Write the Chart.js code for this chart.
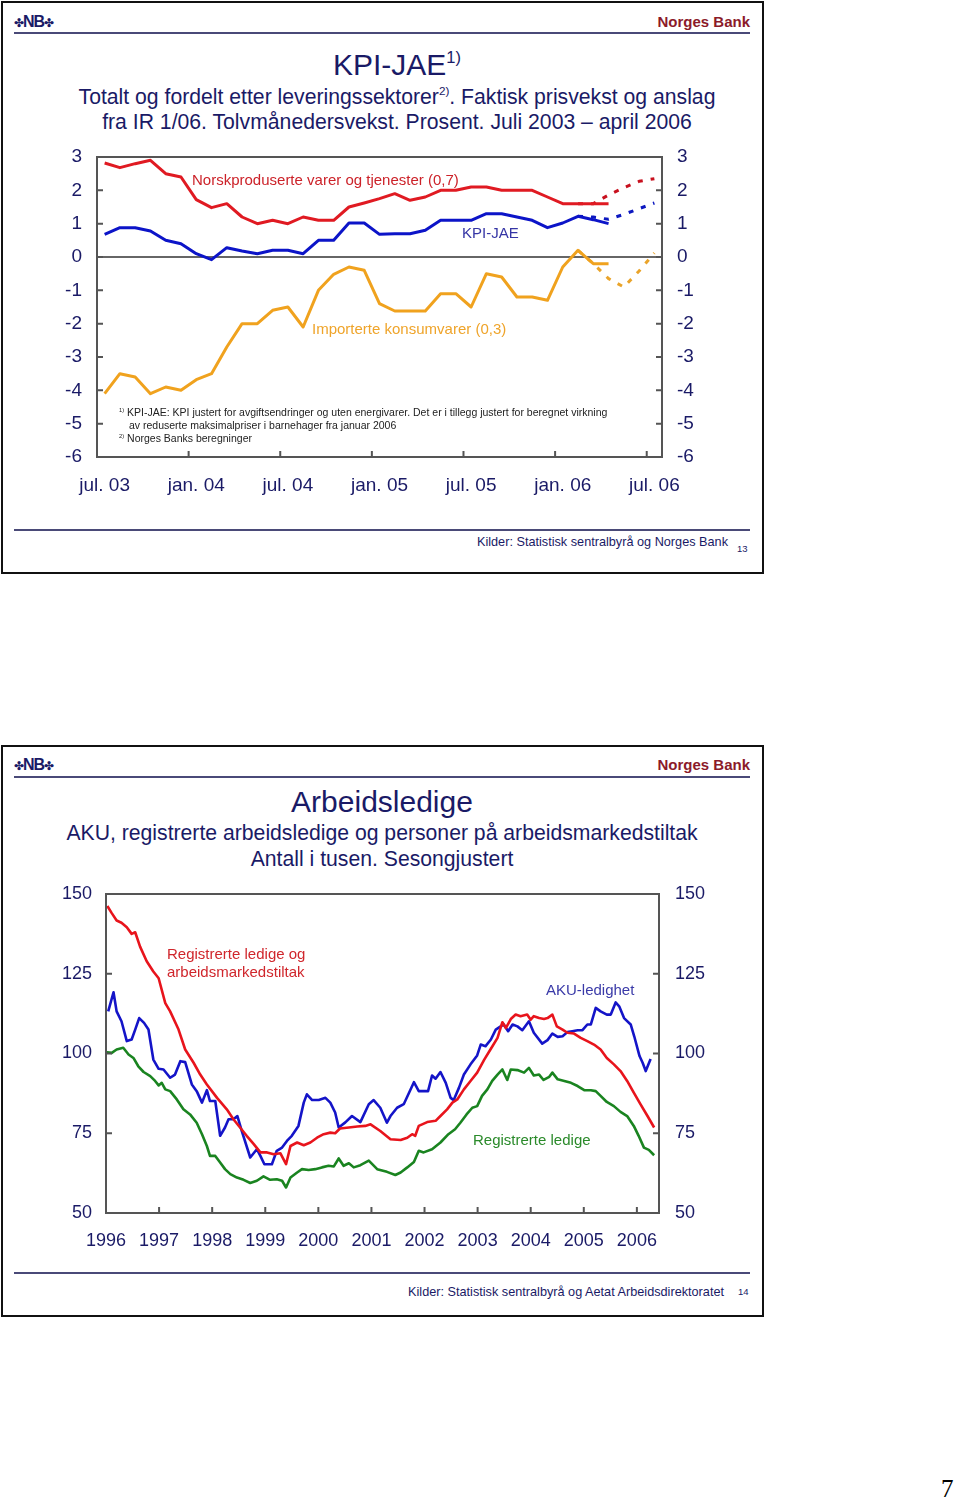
<!DOCTYPE html>
<html><head><meta charset="utf-8">
<script src="https://cdn.jsdelivr.net/npm/chart.js@4"></script>
<style>
body{margin:0;background:#fff;width:960px;height:1501px;position:relative;overflow:hidden;font-family:"Liberation Sans",Arial,sans-serif;color:#1a1a66}
.abs{position:absolute;white-space:nowrap;line-height:1}
.frame{position:absolute;border:2px solid #111;box-sizing:border-box}
.hl{position:absolute;height:2px;background:#4a4a78}
.ctr{transform:translateX(-50%)}
.sup{font-size:55%;position:relative;top:-0.75em}
.logo{font-weight:bold;font-size:16px;color:#1a1a66;letter-spacing:-1px}
.logo span{font-size:12px;font-weight:normal}
.nb{font-weight:bold;font-size:15px;color:#8b1a2a}
.fn{font-size:10.5px;color:#222}
canvas{position:absolute}
</style>
</head><body>
<!-- slide 1 -->
<div class="frame" style="left:1px;top:1px;width:763px;height:573px"></div>
<div class="abs logo" style="left:14px;top:14px"><span>✤</span>NB<span>✤</span></div>
<div class="abs nb" style="right:210px;top:14px">Norges Bank</div>
<div class="hl" style="left:14px;top:32px;width:736px"></div>
<div class="abs ctr" style="left:397px;top:50px;font-size:30px">KPI-JAE<span class="sup">1)</span></div>
<div class="abs ctr" style="left:397px;top:86px;font-size:21.2px">Totalt og fordelt etter leveringssektorer<span class="sup">2)</span>. Faktisk prisvekst og anslag</div>
<div class="abs ctr" style="left:397px;top:111px;font-size:21.2px">fra IR 1/06. Tolvmånedersvekst. Prosent. Juli 2003 – april 2006</div>
<canvas id="c1" width="700" height="370" style="left:30px;top:140px"></canvas>
<div class="abs" style="left:192px;top:172px;font-size:15px;color:#cc2229">Norskproduserte varer og tjenester (0,7)</div>
<div class="abs" style="left:462px;top:225px;font-size:15px;color:#3535a5">KPI-JAE</div>
<div class="abs" style="left:312px;top:321px;font-size:15px;color:#efa42a">Importerte konsumvarer (0,3)</div>
<div class="abs fn" style="left:119px;top:407px"><span class="sup">1)</span> KPI-JAE: KPI justert for avgiftsendringer og uten energivarer. Det er i tillegg justert for beregnet virkning</div>
<div class="abs fn" style="left:129px;top:420px">av reduserte maksimalpriser i barnehager fra januar 2006</div>
<div class="abs fn" style="left:119px;top:433px"><span class="sup">2)</span> Norges Banks beregninger</div>
<div class="hl" style="left:14px;top:529px;width:736px"></div>
<div class="abs" style="right:232px;top:536px;font-size:12.7px;color:#1a1a66">Kilder: Statistisk sentralbyrå og Norges Bank</div>
<div class="abs" style="left:737px;top:544px;font-size:9.5px;color:#1a1a66">13</div>

<!-- slide 2 -->
<div class="frame" style="left:1px;top:745px;width:763px;height:572px"></div>
<div class="abs logo" style="left:14px;top:757px"><span>✤</span>NB<span>✤</span></div>
<div class="abs nb" style="right:210px;top:757px">Norges Bank</div>
<div class="hl" style="left:14px;top:776px;width:736px"></div>
<div class="abs ctr" style="left:382px;top:787px;font-size:30px">Arbeidsledige</div>
<div class="abs ctr" style="left:382px;top:822px;font-size:21.2px">AKU, registrerte arbeidsledige og personer på arbeidsmarkedstiltak</div>
<div class="abs ctr" style="left:382px;top:848px;font-size:21.2px">Antall i tusen. Sesongjustert</div>
<canvas id="c2" width="690" height="380" style="left:40px;top:880px"></canvas>
<div class="abs" style="left:167px;top:946px;font-size:15px;color:#d0262c">Registrerte ledige og</div>
<div class="abs" style="left:167px;top:964px;font-size:15px;color:#d0262c">arbeidsmarkedstiltak</div>
<div class="abs" style="left:546px;top:982px;font-size:15px;color:#3a3aa8">AKU-ledighet</div>
<div class="abs" style="left:473px;top:1132px;font-size:15px;color:#2a8a2a">Registrerte ledige</div>
<div class="hl" style="left:14px;top:1272px;width:736px"></div>
<div class="abs" style="right:236px;top:1286px;font-size:12.7px;color:#1a1a66">Kilder: Statistisk sentralbyrå og Aetat Arbeidsdirektoratet</div>
<div class="abs" style="left:738px;top:1287px;font-size:9.5px;color:#1a1a66">14</div>

<div class="abs" style="left:941px;top:1476px;font-size:25px;font-family:'Liberation Serif',serif;color:#000">7</div>

<script>
// ---------- Chart 1: KPI-JAE (months since jul. 03) ----------
const kpiTickLabels = ['jul. 03','jan. 04','jul. 04','jan. 05','jul. 05','jan. 06','jul. 06'];
const kpiTickMonths = [0, 6, 12, 18, 24, 30, 36];
const kpiTickMarks = [5.5, 11.5, 17.5, 23.5, 29.5, 35.5];
const kpiYTicks = [-6,-5,-4,-3,-2,-1,0,1,2,3];
// actual, jul. 03 .. apr. 06
const norskProd = [2.82,2.68,2.8,2.9,2.5,2.4,1.72,1.48,1.6,1.2,1.0,1.1,1.0,1.2,1.1,1.1,1.5,1.62,1.75,1.9,1.7,1.8,2.0,2.0,2.1,2.1,2.0,2.0,2.0,1.8,1.6,1.6,1.6,1.6];
const kpiJae    = [0.68,0.88,0.88,0.78,0.5,0.4,0.1,-0.08,0.28,0.18,0.1,0.2,0.2,0.1,0.5,0.5,1.02,1.02,0.68,0.7,0.7,0.8,1.1,1.1,1.1,1.3,1.3,1.2,1.1,0.88,1.02,1.22,1.12,1.0];
const importert = [-4.1,-3.5,-3.6,-4.1,-3.9,-4.0,-3.68,-3.5,-2.7,-2.0,-2.0,-1.6,-1.5,-2.1,-1.0,-0.52,-0.3,-0.4,-1.4,-1.62,-1.62,-1.62,-1.1,-1.1,-1.5,-0.5,-0.6,-1.2,-1.2,-1.3,-0.3,0.2,-0.2,-0.2];
// forecast IR 1/06, feb. 06 .. jul. 06
const forecastStart = 31;
const norskProdAnslag = [1.6,1.6,1.86,2.08,2.27,2.35];
const kpiJaeAnslag    = [1.22,1.2,1.13,1.28,1.45,1.62];
const importertAnslag = [0.2,-0.2,-0.65,-0.9,-0.42,0.12];

// ---------- Chart 2: Arbeidsledige (months since jan. 1996) ----------
const yearLabels = ['1996','1997','1998','1999','2000','2001','2002','2003','2004','2005','2006'];
const ledYTicks = [50,75,100,125,150];
const regTiltakMonth = [0.3,1.3,2.4,3.5,4.7,5.8,6.6,7.7,9.2,10.7,11.9,13.4,14.5,16.4,17.9,19.8,21.3,22.8,25.1,27.3,28.8,30.3,31.8,33.4,34.9,36.4,37.9,39.4,40.7,41.7,43.2,44.7,46.2,47.7,49.2,50.7,51.8,52.9,54.9,56.8,58.6,59.8,62,64.3,66.6,68.1,69.2,69.9,70.7,72.6,74.5,75.6,77.1,78.3,79.4,80.9,82.4,83.9,85.5,87,88.5,89.6,90.4,91.5,92.6,93.7,95.2,96,96.7,97.9,99,99.8,100.9,101.9,103.2,104.3,105.8,107.3,108.8,110.3,111.8,113.2,114.8,116.3,117.8,119.3,120.8,122.4,123.9];
const regTiltakValue = [146.25,144,141.7,141,139.6,137.5,138,133.5,128.9,125.7,123.6,115.8,113.2,107.5,101.25,97.1,93.4,90.3,86.1,82.5,79.4,76.8,74.2,71.6,69,69,68.4,68.75,65.3,71,72.1,71.25,72.1,73.6,74.7,75.2,75,76.5,76.8,77.1,77.3,77.8,75.7,73.1,72.9,73.6,74.7,74.2,77.3,78.5,78.9,80.4,82.5,84.6,85.6,88.75,91.4,94,98.1,101.5,104.9,109.8,108,110.8,112.2,111.7,112.2,110.6,111.7,111.1,110.8,111.1,112.2,108.5,107.5,106.5,106.25,104.9,103.9,102.8,101.25,98.6,96.6,94.5,91.4,87.7,84.1,80.4,76.8];
const akuMonth = [0.5,1.7,2.4,3.5,4.7,5.8,6.6,7.5,8.6,9.6,10.7,11.9,13,14.5,15.6,16.8,17.9,19.4,20.5,21.7,22.8,23.5,24.7,25.8,26.9,27.7,28.8,29.7,30.7,32.6,34.1,34.9,35.8,37.5,38.6,39.8,40.9,42,43.5,44.7,45.4,46.6,48.1,49.6,50.7,51.8,52.6,54.1,55.6,57.5,59.4,60.5,62,63.5,64.3,65.8,67.3,69.6,70.7,72.8,73.7,74.5,75.6,76.8,77.9,78.6,79.8,80.9,82.4,83.9,84.7,85.8,87,88.1,89.2,89.9,90.9,91.9,93,94.1,95.6,96.7,98.6,99.8,100.9,102.1,103.2,104.3,105.4,106.6,107.7,108.8,109.6,110.7,111.8,113.2,114.1,115.2,116,117.1,118.6,119.4,120.6,121.3,122,123.1];
const akuValue = [113.2,119.2,113.2,110.1,103.9,104.4,107.5,111.1,109.6,107.5,98.1,95.2,95,92.4,93.4,97.6,97.3,90.3,88.2,84.6,88.5,85.1,85.1,74.2,76.8,79.4,79.4,80.4,75.7,67.4,70,67.9,65.3,65.3,69.5,70.5,72.6,74.2,77.3,84.6,87.2,85.4,85.4,86.1,84.6,81.5,76.8,78.4,80.4,78.5,84.1,85.4,83,78.3,80.4,83,84.1,91,88.2,88.2,93.1,92.1,94.2,90.8,86.1,85.4,89.3,93.4,96.6,99.4,102.8,102.3,104.4,107.5,108.5,109.1,107,109.1,108.5,107.3,110.1,106.5,103.1,104.2,106.25,105.2,105.4,106.7,107,107.3,107.3,109.1,109.1,114.3,113.2,112.2,112.2,116,114.8,111.1,109.1,105.4,99.2,97.1,94.5,98.3];
const regMonth = [0.2,1.3,2.4,3.9,5.1,6.2,7.3,8.5,10,11.1,11.9,12.6,13.4,14.5,16,17.5,19,20.5,21.7,22.8,23.5,24.7,25.8,26.9,28.1,29.6,31.1,32.6,34.1,35.6,37.1,38.6,39.8,40.7,41.7,43.2,44.3,45.8,47.3,48.8,50.3,51.5,52.6,53.7,54.9,56,57.5,59.4,61.3,63.5,65.4,66.6,68.1,69.6,70.7,71.8,73.7,75.6,77.4,78.9,80.1,81.5,82.8,83.9,85,86.2,87.3,88.5,89.6,90.7,91.5,93,94.5,95.6,96.7,97.9,98.9,100.2,100.9,102.1,103.6,105.1,106.6,108.1,109.6,110.7,111.8,113.2,114.8,116.3,117.8,119.3,120.4,121.6,122.7,123.9];
const regValue = [100.4,100.2,101.25,101.8,99.7,98.6,96,94.2,92.9,91.4,90,90.8,88.75,88.2,85.6,82.5,80.9,78.3,74.7,71,67.9,67.9,65.8,63.75,62.2,61.1,60.4,59.4,60.1,61.5,60.4,60.6,60.1,58,61.1,62.7,63.75,63.5,63.75,64.3,64.8,64.6,67.1,64.8,65.6,64.3,65,66.4,63.75,62.9,61.9,62.7,64.3,66,69.5,69,70,72.1,74.7,76.25,78.3,80.9,83,83.5,86.7,88.75,91.4,93.4,95,91.7,95,94.8,94,95.5,93.1,93.4,91.7,92.7,94,91.9,91.4,90.8,89.8,88.5,88.5,88.2,86.7,84.8,83.5,81.7,80.4,77.3,74.2,70.5,69.8,68.1];

// ---------- helpers ----------
const NAVY = '#1a1a66';
const FONT = "'Liberation Sans', Arial, sans-serif";
const pts = (xs, ys) => ys.map((y, i) => ({x: xs[i], y}));
const seq = (start, ys) => ys.map((y, i) => ({x: start + i, y}));

const frameTicks = {
  id: 'frameTicks',
  afterDatasetsDraw(chart, args, o) {
    const {ctx, chartArea: a} = chart;
    const xs = chart.scales.x, ys = chart.scales.y;
    ctx.save();
    ctx.strokeStyle = o.color; ctx.lineWidth = o.width;
    ctx.strokeRect(a.left, a.top, a.right - a.left, a.bottom - a.top);
    ctx.beginPath();
    o.xMarks.forEach(v => { const p = xs.getPixelForValue(v); ctx.moveTo(p, a.bottom); ctx.lineTo(p, a.bottom - o.len); });
    o.yMarks.forEach(v => { const p = ys.getPixelForValue(v);
      ctx.moveTo(a.left, p); ctx.lineTo(a.left + o.len, p);
      ctx.moveTo(a.right, p); ctx.lineTo(a.right - o.len, p); });
    ctx.stroke();
    ctx.restore();
  }
};

function lineDs(data, color, width, dash) {
  return {data, borderColor: color, borderWidth: width, pointRadius: 0, tension: 0, fill: false,
          borderDash: dash || [], borderCapStyle: 'butt', borderJoinStyle: 'round'};
}
function yAxis(pos, min, max, ticks, width, pad, fontSize, grid) {
  return {type: 'linear', position: pos, min, max,
    afterBuildTicks: s => { s.ticks = ticks.map(v => ({value: v})); },
    afterFit: s => { s.width = width; s.paddingTop = 0; s.paddingBottom = 0; },
    border: {display: false},
    grid: grid || {display: false, drawTicks: false},
    ticks: {color: NAVY, font: {family: FONT, size: fontSize}, padding: pad}};
}

// ---------- chart 1 ----------
new Chart(document.getElementById('c1'), {
  type: 'line',
  data: {datasets: [
    lineDs(seq(0, importert), '#f0a21e', 3),
    lineDs(seq(0, norskProd), '#e01a22', 3),
    lineDs(seq(0, kpiJae), '#0c14c8', 3),
    lineDs(seq(forecastStart, norskProdAnslag), '#c8101e', 3, [5, 8]),
    lineDs(seq(forecastStart, kpiJaeAnslag), '#0c18c0', 3, [5, 8]),
    lineDs(seq(forecastStart, importertAnslag), '#eaa42a', 3, [5, 8])
  ]},
  options: {
    responsive: false, animation: false, devicePixelRatio: 1,
    layout: {padding: {top: 17, left: 0, right: 0, bottom: 0}},
    plugins: {legend: {display: false}, tooltip: {enabled: false},
      frameTicks: {color: '#555', width: 2, len: 6, xMarks: kpiTickMarks, yMarks: kpiYTicks}},
    scales: {
      x: {type: 'linear', min: -0.5, max: 36.5,
        afterBuildTicks: s => { s.ticks = kpiTickMonths.map(v => ({value: v})); },
        afterFit: s => { s.height = 53; },
        border: {display: false}, grid: {display: false, drawTicks: false},
        ticks: {color: NAVY, font: {family: FONT, size: 19}, padding: 17, autoSkip: false, maxRotation: 0,
          callback: (v, i) => kpiTickLabels[i]}},
      y: yAxis('left', -6, 3, kpiYTicks, 67, 15, 19,
        {drawTicks: false, lineWidth: 2, color: c => c.tick && c.tick.value === 0 ? '#666' : 'rgba(0,0,0,0)'}),
      y2: yAxis('right', -6, 3, kpiYTicks, 68, 15, 19)
    }
  },
  plugins: [frameTicks]
});

// ---------- chart 2 ----------
new Chart(document.getElementById('c2'), {
  type: 'line',
  data: {datasets: [
    lineDs(pts(regMonth, regValue), '#1a8420', 2.6),
    lineDs(pts(regTiltakMonth, regTiltakValue), '#e8141c', 2.6),
    lineDs(pts(akuMonth, akuValue), '#1414c8', 2.6)
  ]},
  options: {
    responsive: false, animation: false, devicePixelRatio: 1,
    layout: {padding: {top: 14, left: 0, right: 0, bottom: 0}},
    plugins: {legend: {display: false}, tooltip: {enabled: false},
      frameTicks: {color: '#555', width: 2, len: 6,
        xMarks: yearLabels.map((y, i) => i * 12).filter(v => v > 0), yMarks: ledYTicks}},
    scales: {
      x: {type: 'linear', min: 0, max: 125,
        afterBuildTicks: s => { s.ticks = yearLabels.map((y, i) => ({value: i * 12})); },
        afterFit: s => { s.height = 47; },
        border: {display: false}, grid: {display: false, drawTicks: false},
        ticks: {color: NAVY, font: {family: FONT, size: 18}, padding: 17, autoSkip: false, maxRotation: 0,
          callback: (v, i) => yearLabels[i]}},
      y: yAxis('left', 50, 150, ledYTicks, 66, 14, 18),
      y2: yAxis('right', 50, 150, ledYTicks, 71, 16, 18)
    }
  },
  plugins: [frameTicks]
});
</script>
</body></html>
